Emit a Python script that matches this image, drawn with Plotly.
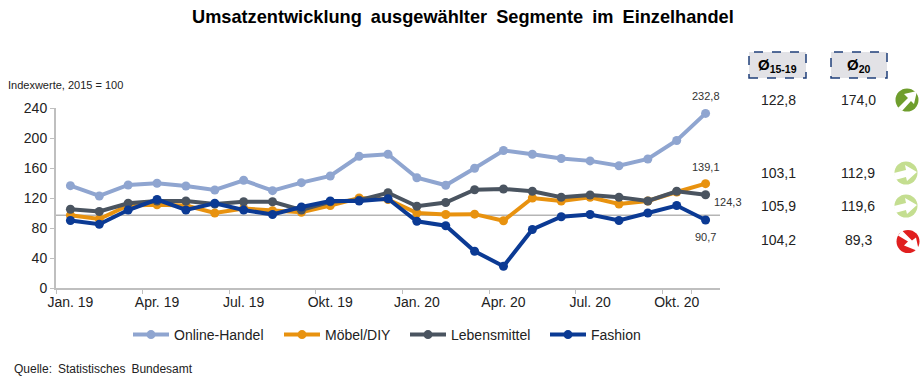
import plotly.graph_objects as go

months = ["Jan. 19","Feb. 19","Mär. 19","Apr. 19","Mai 19","Jun. 19","Jul. 19","Aug. 19","Sep. 19","Okt. 19","Nov. 19","Dez. 19",
          "Jan. 20","Feb. 20","Mär. 20","Apr. 20","Mai 20","Jun. 20","Jul. 20","Aug. 20","Sep. 20","Okt. 20","Nov. 20"]
tick_labels = ["Jan. 19","Apr. 19","Jul. 19","Okt. 19","Jan. 20","Apr. 20","Jul. 20","Okt. 20"]
online = [136.5,122.7,137.4,139.6,136,130.7,143.6,129.8,140.5,149.4,175.7,178.4,147,137,159.7,183.3,178.4,172.6,169.5,163,172,196.7,232.8]
moebel = [97,92,110,111,110,100,106,103,101,110,120,118,100,98,98.5,89.6,120,116,121,112,116,128,139.1]
lebensmittel = [105,102,113,116,116,112,115,115,104,115,117,127,109,114,131,132,129,121,124,121,116,129,124.3]
fashion = [90,85,104,118,104,113,104,98,108,116,116,119,89,83,49,29,78,95,98,90,100,110,90.7]
series_names = ["Online-Handel","Möbel/DIY","Lebensmittel","Fashion"]
series_colors = ["#8fa5d0","#e8920f","#4a5460","#0b3a94"]
series_values = [online, moebel, lebensmittel, fashion]
avg_15_19 = ["122,8","103,1","105,9","104,2"]
avg_20 = ["174,0","112,9","119,6","89,3"]
end_labels = ["232,8","139,1","124,3","90,7"]
reference_level = 97

W, H = 923, 379
L, R, T, B = 56, 720, 108, 288
def px(x): return (x - L) / (R - L)
def py(y): return (B - y) / (B - T)

FONT = "Liberation Sans, Arial, sans-serif"
WS = "\u2002"
fig = go.Figure()
legend_ids = ["legend", "legend2", "legend3", "legend4"]
for name, color, vals, lid in zip(series_names, series_colors, series_values, legend_ids):
    fig.add_trace(go.Scatter(x=months, y=vals, name=name, mode="lines+markers", legend=lid, showlegend=True,
                             line=dict(color=color, width=4),
                             marker=dict(color=color, size=9), cliponaxis=False))

shapes = [dict(type="line", xref="paper", yref="y", x0=0, x1=1, y0=reference_level, y1=reference_level,
               line=dict(color="#b5b5b5", width=1.3), layer="below")]
for x0, x1 in [(749, 806), (831, 887)]:
    shapes.append(dict(type="rect", xref="paper", yref="paper", x0=px(x0), x1=px(x1), y0=py(78), y1=py(52),
                       fillcolor="#e2e2e6", line=dict(color="#1f3f7a", width=1.5, dash="dash")))

def icon(cx, cy, r, color, pts):
    shapes.append(dict(type="circle", xref="paper", yref="paper", x0=px(cx-r), x1=px(cx+r), y0=py(cy+r), y1=py(cy-r),
                       fillcolor=color, line=dict(width=0)))
    d = "M" + " L".join(f"{px(cx+a):.5f},{py(cy+b):.5f}" for a, b in pts) + " Z"
    shapes.append(dict(type="path", xref="paper", yref="paper", path=d, fillcolor="white", line=dict(width=0)))

ne = [(-9,8),(1,-2),(-3,-6),(10,-9),(7,4),(4,1),(-5,11)]
ea = [(-12,0),(0,-3),(-1,-8),(11,-1),(1,8),(0,4),(-11,7)]
se = [(-10,-6),(0,0),(-4,4),(11,10),(8,-4),(4,-1),(-6,-11)]
icon(907, 100, 11.5, "#6f9e2d", ne)
icon(906, 173, 11.5, "#c4de90", ea)
icon(906, 206, 11.5, "#c4de90", ea)
icon(908, 241.5, 11.5, "#e01f1f", se)

ann = []
def text(x, y, s, size, color="#222222", anchor="center", bold=False):
    ann.append(dict(xref="paper", yref="paper", x=px(x), y=py(y), text=f"<b>{s}</b>" if bold else s, showarrow=False,
                    xanchor=anchor, yanchor="middle", font=dict(family=FONT, size=size, color=color)))

text(463, 17, f"Umsatzentwicklung{WS}ausgewählter{WS}Segmente{WS}im{WS}Einzelhandel", 18.2, "#000000", bold=True)
text(6, 85, "Indexwerte, 2015 = 100", 11, anchor="left")
text(12, 369, f"Quelle:{WS}Statistisches{WS}Bundesamt", 12, anchor="left")
text(777, 66, "Ø<sub>15-19</sub>", 15, "#000000", bold=True)
text(859, 66, "Ø<sub>20</sub>", 15, "#000000", bold=True)
for y, a, b in zip([100, 173, 206, 240], avg_15_19, avg_20):
    text(778, y, a, 14)
    text(858, y, b, 14)

last = months[-1]
for val, lab, dx, dy in zip([online[-1], moebel[-1], lebensmittel[-1], fashion[-1]], end_labels,
                            [0, 0, 22, 0], [17, 17, -7, -17]):
    ann.append(dict(xref="x", yref="y", x=last, y=val, text=lab, showarrow=False, xshift=dx, yshift=dy,
                    font=dict(family=FONT, size=11, color="#333333")))

legends = {}
for lid, start in zip(legend_ids, [128, 279, 405, 545]):
    legends[lid] = dict(orientation="h", x=px(start), y=py(335), xanchor="left", yanchor="middle",
                        font=dict(size=14, color="#222222"), itemwidth=36, bgcolor="rgba(0,0,0,0)")

fig.update_layout(
    width=W, height=H, autosize=False, paper_bgcolor="white", plot_bgcolor="white",
    margin=dict(l=L, r=W-R, t=T, b=H-B, autoexpand=False),
    font=dict(family=FONT, size=14, color="#222222"), showlegend=True,
    shapes=shapes, annotations=ann,
    xaxis=dict(type="category", categoryorder="array", categoryarray=months, tickmode="array",
               tickvals=tick_labels, ticktext=tick_labels, tickson="boundaries", ticks="outside", ticklen=4,
               tickcolor="#bfbfbf", showline=True, linecolor="#bfbfbf", linewidth=1.5, showgrid=False,
               tickfont=dict(size=14), tickangle=0, range=[-0.5, 22.5]),
    yaxis=dict(range=[0, 240], tickvals=[0,40,80,120,160,200,240], ticks="outside", ticklen=4, tickcolor="#bfbfbf",
               showline=True, linecolor="#bfbfbf", linewidth=2, showgrid=False, zeroline=False,
               tickfont=dict(size=14)),
    **legends,
)
fig.write_html("out.html", config={"displayModeBar": False},
               post_script="document.body.style.margin='0';document.documentElement.style.overflow='hidden';")
